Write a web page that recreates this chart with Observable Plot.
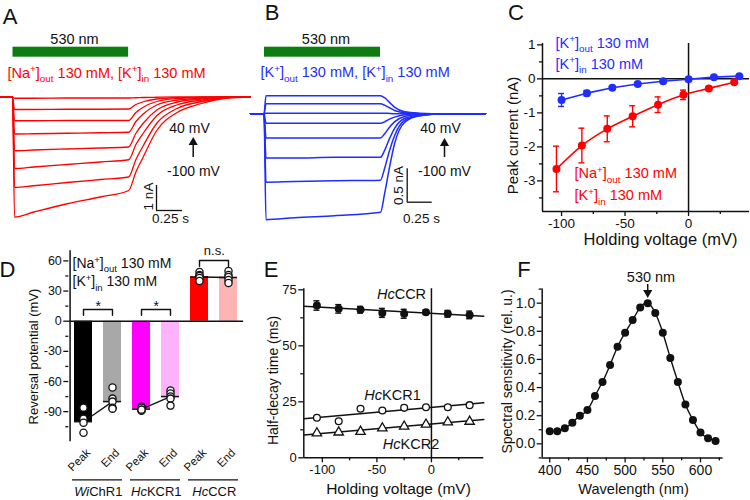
<!DOCTYPE html>
<html>
<head>
<meta charset="utf-8">
<script src="https://cdn.jsdelivr.net/npm/d3@7"></script>
<script src="https://cdn.jsdelivr.net/npm/@observablehq/plot@0.6"></script>
<style>
html,body{margin:0;padding:0;background:#fff;}
#fig{position:relative;width:750px;height:500px;overflow:hidden;background:#fff;}
.panel{position:absolute;}
.panel svg{display:block;overflow:visible;}
</style>
</head>
<body>
<div id="fig"></div>
<script>
// ================= DATA =================
// Panel A: photocurrent traces, [Na+]out / [K+]in (time s, current nA)
const timesA = [-0.12, -0.005, 0.015, 0.2, 0.52, 0.84, 1.11, 1.18, 1.25, 1.38, 1.58, 1.8, 2.09, 2.28];
const stepsA = [40, 20, 0, -20, -40, -60, -80, -100];
const traceA40   = [0, 0, -0.05, -0.05, -0.04, -0.04, -0.04, -0.03, -0.02, -0.01, 0, 0, 0, 0];
const traceA20   = [0, 0, -0.5, -0.5, -0.49, -0.49, -0.48, -0.3, -0.19, -0.08, -0.03, -0.01, 0, 0];
const traceA0    = [0, 0, -0.95, -0.95, -0.94, -0.94, -0.94, -0.62, -0.41, -0.18, -0.06, -0.02, 0, 0];
const traceAm20  = [0, 0, -1.48, -1.47, -1.45, -1.43, -1.41, -0.98, -0.68, -0.32, -0.12, -0.05, 0, 0];
const traceAm40  = [0, 0, -2.15, -2.12, -2.08, -2.04, -2.0, -1.45, -1.05, -0.52, -0.2, -0.08, 0, 0];
const traceAm60  = [0, 0, -2.86, -2.8, -2.7, -2.6, -2.51, -1.9, -1.45, -0.75, -0.31, -0.13, -0.01, 0];
const traceAm80  = [0, 0, -3.62, -3.55, -3.42, -3.3, -3.2, -2.5, -1.95, -1.05, -0.45, -0.19, -0.02, 0];
const traceAm100 = [0, 0, -4.8, -4.6, -4.27, -4.0, -3.74, -3.0, -2.4, -1.34, -0.61, -0.27, -0.03, 0];
const lightA = [0, 1.11];          // light on / off (s)
const scaleBarA = [1, 0.25];       // nA, s

// Panel B: photocurrent traces, [K+]out / [K+]in
const timesB = [-0.14, -0.005, 0.015, 0.3, 0.7, 1.16, 1.2, 1.25, 1.3, 1.4, 1.55, 1.8, 2.21];
const stepsB = [40, 20, 0, -20, -40, -60, -80, -100];
const traceB40   = [0, 0, 0.27, 0.27, 0.27, 0.27, 0.24, 0.17, 0.1, 0.03, 0.01, 0, 0];
const traceB20   = [0, 0, 0.15, 0.15, 0.15, 0.15, 0.13, 0.09, 0.05, 0.015, 0, 0, 0];
const traceB0    = [0, 0, 0.01, 0.01, 0.01, 0.01, 0.01, 0.005, 0, 0, 0, 0, 0];
const traceBm20  = [0, 0, -0.14, -0.14, -0.14, -0.14, -0.12, -0.08, -0.05, -0.015, 0, 0, 0];
const traceBm40  = [0, 0, -0.36, -0.36, -0.36, -0.36, -0.3, -0.2, -0.12, -0.04, -0.01, 0, 0];
const traceBm60  = [0, 0, -0.66, -0.66, -0.65, -0.65, -0.55, -0.37, -0.22, -0.07, -0.02, 0, 0];
const traceBm80  = [0, 0, -1.02, -1.01, -1.0, -0.99, -0.82, -0.55, -0.33, -0.1, -0.03, 0, 0];
const traceBm100 = [0, 0, -1.58, -1.55, -1.52, -1.47, -1.2, -0.8, -0.45, -0.13, -0.03, 0, 0];
const lightB = [0, 1.16];
const scaleBarB = [0.5, 0.25];

// Panel C: peak current vs holding voltage
const voltsK = [-100, -80, -60, -40, -20, 0, 20, 40];
const meanK  = [-0.62, -0.42, -0.26, -0.15, -0.07, -0.01, 0.05, 0.08];
const errK   = [0.19, 0.08, 0.04, 0.03, 0.02, 0.02, 0.02, 0.02];
const voltsNa = [-104, -84, -64, -44, -24, -4, 16, 36];
const meanNa  = [-2.65, -1.96, -1.47, -1.1, -0.76, -0.47, -0.28, -0.1];
const errNa   = [0.67, 0.51, 0.38, 0.31, 0.23, 0.14, 0.05, 0.03];
const ticksC_y = [-3, -2, -1, 0, 1];
const ticksC_x = [-100, -50, 0];

// Panel D: reversal potentials
const barKeys   = ["WiChR1 Peak", "WiChR1 End", "HcKCR1 Peak", "HcKCR1 End", "HcCCR Peak", "HcCCR End"];
const barPhase  = ["Peak", "End", "Peak", "End", "Peak", "End"];
const barGroup  = ["WiChR1", "WiChR1", "HcKCR1", "HcKCR1", "HcCCR", "HcCCR"];
const barValues = [-100, -80, -87.5, -75, 44, 43.5];
const barColors = ["#000000", "#a8a8a8", "#ff00ff", "#ffb2ff", "#ff0000", "#ffb4b4"];
const ptsWiPeak  = [-86, -97, -101, -111];
const ptsWiEnd   = [-66, -77, -80, -86, -87];
const ptsKcrPeak = [-85, -86, -88, -89, -88];
const ptsKcrEnd  = [-69, -72, -75, -77, -84];
const ptsCcrPeak = [49, 46, 45, 43, 40];
const ptsCcrEnd  = [50, 46, 44, 41, 38];
const groupNames = ["{i:Wi}ChR1", "{i:Hc}KCR1", "{i:Hc}CCR"];
const sigLabels  = ["*", "*", "n.s."];
const sigLevels  = [11.6, 11.6, 60.4];
const ticksD_y = [-90, -60, -30, 0, 30, 60];

// Panel E: half-decay time
const voltsE  = [-105, -85, -65, -45, -25, -5, 15, 35];
const ccrTime = [68.0, 66.5, 66.1, 64.7, 64.3, 65.0, 64.3, 63.8];
const ccrErr  = [2.1, 1.9, 1.5, 2.0, 2.0, 1.0, 1.5, 1.7];
const kcr1Time = [17.9, 16.3, 21.9, 21.1, 22.3, 22.6, 22.6, 23.5];
const kcr2Time = [11.0, 11.4, 11.7, 13.2, 14.0, 14.9, 15.9, 16.2];
const fitVolts = [-117, 48];
const fitCcr   = [67.7, 63.2];
const fitKcr1  = [17.4, 24.6];
const fitKcr2  = [10.2, 17.1];
const ticksE_y = [0, 25, 50, 75];
const ticksE_x = [-100, -50, 0];

// Panel F: action spectrum
const wavelengths = [400, 410, 420, 430, 440, 450, 460, 470, 480, 490, 500, 510, 520, 530, 540, 550, 560, 570, 580, 590, 600, 610, 620];
const sensitivity = [0.09, 0.09, 0.11, 0.15, 0.2, 0.24, 0.34, 0.44, 0.56, 0.69, 0.79, 0.88, 0.97, 1.0, 0.93, 0.79, 0.61, 0.44, 0.28, 0.17, 0.08, 0.04, 0.02];
const ticksF_y = [0, 0.2, 0.4, 0.6, 0.8, 1.0];
const ticksF_x = [400, 450, 500, 550, 600];
const peakWavelength = 530;

// ================= HELPERS =================
const FONT = '"Liberation Sans", Arial, Helvetica, sans-serif';
const RED = "#ff0000", BLUE = "#1f2dff", GREEN = "#0d7d12", INK = "#111111";
const fig = document.getElementById("fig");

function mk(p) {
  p.sx = d3.scaleLinear(p.xDom || [0, 1], [p.left + p.mL, p.left + p.w - p.mR]);
  p.sy = d3.scaleLinear(p.yDom, [p.top + p.h - p.mB, p.top + p.mT]);
  p.ix = gx => p.sx.invert(gx);
  p.iy = gy => p.sy.invert(gy);
  p.at = (gx, gy) => ({frameAnchor: "top-left", dx: gx - p.left - p.mL, dy: gy - p.top - p.mT});
  return p;
}
function base(p, o) {
  return Object.assign({
    width: p.w, height: p.h,
    marginLeft: p.mL, marginRight: p.mR, marginTop: p.mT, marginBottom: p.mB,
    style: {background: "transparent", overflow: "visible", fontFamily: FONT, fontSize: p.fs + "px", color: INK}
  }, o);
}
function lab(p, s, gx, gy, o = {}) {
  return Plot.text([s], Object.assign({}, p.at(gx, gy), {text: d => d, textAnchor: "middle", lineAnchor: "middle", fill: INK}, o));
}
// vertical arrow with a filled triangular head (shaft + triangle symbol)
function arrowMarks(p, x, gyFrom, gyTip, up = true) {
  const headOff = 5.4;
  const gyHead = up ? gyTip + headOff : gyTip - headOff;
  return [
    Plot.ruleX([{x, y1: p.iy(gyFrom), y2: p.iy(gyHead)}], {x: "x", y1: "y1", y2: "y2", stroke: INK, strokeWidth: 1.5}),
    Plot.dot([{x, y: p.iy(gyHead)}], {x: "x", y: "y", symbol: "triangle", r: 3.4, fill: INK, rotate: up ? 0 : 180})
  ];
}
function richText(svg) {
  const NS = "http://www.w3.org/2000/svg";
  svg.querySelectorAll("text").forEach(el => {
    const s = el.textContent;
    if (!/\{[i^_]:/.test(s)) return;
    const fs = parseFloat(getComputedStyle(el).fontSize) || 14;
    while (el.firstChild) el.removeChild(el.firstChild);
    const re = /\{([i^_]):([^}]*)\}/g;
    let last = 0, m, cur = 0;
    const add = (txt, kind) => {
      if (!txt) return;
      const t = document.createElementNS(NS, "tspan");
      let target = 0;
      if (kind === "^") { target = -0.38 * fs; t.setAttribute("font-size", (0.68 * fs).toFixed(2)); }
      else if (kind === "_") { target = 0.3 * fs; t.setAttribute("font-size", (0.68 * fs).toFixed(2)); }
      else if (kind === "i") t.setAttribute("font-style", "italic");
      if (target !== cur) { t.setAttribute("dy", (target - cur).toFixed(2)); cur = target; }
      t.textContent = txt;
      el.appendChild(t);
    };
    while ((m = re.exec(s))) { add(s.slice(last, m.index), ""); add(m[2], m[1]); last = re.lastIndex; }
    add(s.slice(last), "");
  });
}
function place(p, svg) {
  const div = document.createElement("div");
  div.className = "panel";
  Object.assign(div.style, {left: p.left + "px", top: p.top + "px", width: p.w + "px", height: p.h + "px"});
  div.appendChild(svg);
  fig.appendChild(div);
  richText(svg);
}
const fmt = d => String(d);
function axes(p, yMajor, yMinor, xMajor, xMinor, yFmt = fmt) {
  const out = [
    Plot.axisY({ticks: yMajor, tickSize: 5, tickPadding: 2, tickFormat: yFmt, label: null, strokeWidth: 1.3}),
    Plot.axisY({ticks: yMinor, tickSize: 3, tickFormat: () => "", label: null, strokeWidth: 1.3})
  ];
  if (xMajor) out.push(
    Plot.axisX({ticks: xMajor, tickSize: 5, tickPadding: 2, tickFormat: fmt, label: null, strokeWidth: 1.3}),
    Plot.axisX({ticks: xMinor, tickSize: 3, tickFormat: () => "", label: null, strokeWidth: 1.3})
  );
  return out;
}

// ================= PANEL A =================
{
  const A = mk({left: 0, top: 0, w: 250, h: 250, mL: 0, mR: 0, mT: 0, mB: 0, xDom: [-0.12, 2.28], yDom: [-6.14, 3.86], fs: 14});
  const traces = [traceA40, traceA20, traceA0, traceAm20, traceAm40, traceAm60, traceAm80, traceAm100];
  const rows = stepsA.flatMap((v, k) => timesA.map((t, j) => ({v, t, i: traces[k][j]})));
  const bar = {t: A.ix(156), i: A.iy(210)};
  const svg = Plot.plot(base(A, {
    x: {domain: A.xDom, axis: null}, y: {domain: A.yDom, axis: null},
    marks: [
      Plot.rect([lightA], {x1: d => d[0], x2: d => d[1], y1: () => A.iy(56.7), y2: () => A.iy(46.7), fill: GREEN}),
      Plot.line(rows, {x: "t", y: "i", z: "v", stroke: RED, strokeWidth: 1.3, curve: "monotone-x"}),
      Plot.ruleX([bar], {x: "t", y1: "i", y2: d => d.i + scaleBarA[0], stroke: INK, strokeWidth: 1.3}),
      Plot.ruleY([bar], {y: "i", x1: "t", x2: d => d.t + scaleBarA[1], stroke: INK, strokeWidth: 1.3}),
      ...arrowMarks(A, A.ix(192.7), 157, 136.5, true),
      lab(A, "A", 9.5, 16.5, {fontSize: 22}),
      lab(A, "530 nm", 74, 38.5, {fontSize: 14.5}),
      lab(A, "[Na{^:+}]{_:out} 130 mM, [K{^:+}]{_:in} 130 mM", 7, 72.5, {fontSize: 14.5, textAnchor: "start", fill: RED}),
      lab(A, "40 mV", 189, 128, {fontSize: 14}),
      lab(A, "-100 mV", 193, 171.5, {fontSize: 14}),
      lab(A, "1 nA", 148, 196, {fontSize: 13.5, rotate: -90}),
      lab(A, "0.25 s", 170, 218.5, {fontSize: 13.5})
    ]
  }));
  place(A, svg);
}

// ================= PANEL B =================
{
  const B = mk({left: 250, top: 0, w: 250, h: 250, mL: 0, mR: 0, mT: 0, mB: 0, xDom: [-0.14, 2.36], yDom: [-2.04, 1.691], fs: 14});
  const traces = [traceB40, traceB20, traceB0, traceBm20, traceBm40, traceBm60, traceBm80, traceBm100];
  const rows = stepsB.flatMap((v, k) => timesB.map((t, j) => ({v, t, i: traces[k][j]})));
  const bar = {t: B.ix(406.7), i: B.iy(201.7)};
  const svg = Plot.plot(base(B, {
    x: {domain: B.xDom, axis: null}, y: {domain: B.yDom, axis: null},
    marks: [
      Plot.rect([lightB], {x1: d => d[0], x2: d => d[1], y1: () => B.iy(56.7), y2: () => B.iy(46.7), fill: GREEN}),
      Plot.line(rows, {x: "t", y: "i", z: "v", stroke: BLUE, strokeWidth: 1.5, curve: "monotone-x"}),
      Plot.ruleX([bar], {x: "t", y1: "i", y2: d => d.i + scaleBarB[0], stroke: INK, strokeWidth: 1.3}),
      Plot.ruleY([bar], {y: "i", x1: "t", x2: d => d.t + scaleBarB[1], stroke: INK, strokeWidth: 1.3}),
      ...arrowMarks(B, B.ix(444), 157, 137.5, true),
      lab(B, "B", 271.5, 12.5, {fontSize: 22}),
      lab(B, "530 nm", 325.5, 38.5, {fontSize: 14.5}),
      lab(B, "[K{^:+}]{_:out} 130 mM, [K{^:+}]{_:in} 130 mM", 260, 72, {fontSize: 14.5, textAnchor: "start", fill: BLUE}),
      lab(B, "40 mV", 440, 128, {fontSize: 14}),
      lab(B, "-100 mV", 444, 171.5, {fontSize: 14}),
      lab(B, "0.5 nA", 398, 185, {fontSize: 13.5, rotate: -90}),
      lab(B, "0.25 s", 421, 218.5, {fontSize: 13.5})
    ]
  }));
  place(B, svg);
}

// ================= PANEL C =================
{
  const C = mk({left: 500, top: 0, w: 250, h: 250, mL: 42, mR: 1, mT: 43, mB: 39, xDom: [-115, 48], yDom: [-3.9, 1.04], fs: 13.5});
  const kRows = voltsK.map((v, i) => ({v, m: meanK[i], e: errK[i]}));
  const nRows = voltsNa.map((v, i) => ({v, m: meanNa[i], e: errNa[i]}));
  const errMarks = (rows, color) => [
    Plot.ruleX(rows, {x: "v", y1: d => d.m - d.e, y2: d => d.m + d.e, stroke: color, strokeWidth: 1.4}),
    Plot.ruleY(rows, {y: d => d.m + d.e, x1: "v", x2: "v", insetLeft: -3, insetRight: -3, stroke: color, strokeWidth: 1.4}),
    Plot.ruleY(rows, {y: d => d.m - d.e, x1: "v", x2: "v", insetLeft: -3, insetRight: -3, stroke: color, strokeWidth: 1.4})
  ];
  const svg = Plot.plot(base(C, {
    x: {domain: C.xDom}, y: {domain: C.yDom},
    marks: [
      Plot.ruleX([C.xDom[0]], {stroke: INK, strokeWidth: 1.5}),
      Plot.ruleY([C.yDom[0]], {stroke: INK, strokeWidth: 1.5}),
      Plot.ruleY([0], {stroke: INK, strokeWidth: 1.5}),
      Plot.ruleX([0], {stroke: INK, strokeWidth: 1.5}),
      ...axes(C, ticksC_y, [-3.5, -2.5, -1.5, -0.5, 0.5], ticksC_x, [-75, -25, 25]),
      Plot.line(kRows, {x: "v", y: "m", stroke: BLUE, strokeWidth: 1.6}),
      ...errMarks(kRows, BLUE),
      Plot.dot(kRows, {x: "v", y: "m", r: 4, fill: BLUE}),
      Plot.line(nRows, {x: "v", y: "m", stroke: RED, strokeWidth: 1.6, curve: "monotone-x"}),
      ...errMarks(nRows, RED),
      Plot.dot(nRows, {x: "v", y: "m", r: 4, fill: RED}),
      lab(C, "C", 515.5, 12.5, {fontSize: 22}),
      lab(C, "[K{^:+}]{_:out} 130 mM", 555, 42.5, {fontSize: 14.5, textAnchor: "start", fill: BLUE}),
      lab(C, "[K{^:+}]{_:in} 130 mM", 555, 63.5, {fontSize: 14.5, textAnchor: "start", fill: BLUE}),
      lab(C, "[Na{^:+}]{_:out} 130 mM", 574, 173, {fontSize: 14.5, textAnchor: "start", fill: RED}),
      lab(C, "[K{^:+}]{_:in} 130 mM", 574, 195, {fontSize: 14.5, textAnchor: "start", fill: RED}),
      lab(C, "Peak current (nA)", 513, 135, {fontSize: 15, rotate: -90}),
      lab(C, "Holding voltage (mV)", 660, 239, {fontSize: 16.5})
    ]
  }));
  place(C, svg);
}

// ================= PANEL D =================
{
  const D = mk({left: 0, top: 240, w: 250, h: 260, mL: 68.3, mR: 6.9, mT: 10.35, mB: 58.7, yDom: [-120, 70], fs: 12.5});
  const pIn = 0.392, pOut = 0.149, n = barKeys.length;
  const step = (D.w - D.mL - D.mR) / (n - pIn + 2 * pOut);
  const bw = step * (1 - pIn);
  const bars = barKeys.map((key, i) => ({key, phase: barPhase[i], group: barGroup[i], value: barValues[i]}));
  const phaseOf = Object.fromEntries(barKeys.map((k, i) => [k, barPhase[i]]));
  const ptsLists = [ptsWiPeak, ptsWiEnd, ptsKcrPeak, ptsKcrEnd, ptsCcrPeak, ptsCcrEnd];
  const pts = barKeys.flatMap((key, i) => ptsLists[i].map(value => ({key, value})));
  const groups = groupNames.map((name, g) => ({name, a: barKeys[2 * g], b: barKeys[2 * g + 1]}));
  const sig = sigLabels.map((label, g) => ({label, a: barKeys[2 * g], b: barKeys[2 * g + 1], top: sigLevels[g], id: g}));
  const legLen = 5.8;
  const brackets = sig.flatMap(s => [
    {id: s.id, x: s.a, y: s.top - legLen}, {id: s.id, x: s.a, y: s.top},
    {id: s.id, x: s.b, y: s.top}, {id: s.id, x: s.b, y: s.top - legLen}
  ]);
  const svg = Plot.plot(base(D, {
    x: {type: "band", domain: barKeys, paddingInner: pIn, paddingOuter: pOut, align: 0.5},
    y: {domain: D.yDom},
    color: {domain: barKeys, range: barColors},
    marks: [
      Plot.barY(bars, {x: "key", y1: 0, y2: "value", fill: "key"}),
      Plot.tickY(bars, {x: "key", y: "value", stroke: INK, strokeWidth: 1.5}),
      Plot.ruleY([0], {stroke: INK, strokeWidth: 1.5}),
      Plot.ruleX([barKeys[0]], {dx: -(step * pOut + bw / 2), y1: D.yDom[0], y2: D.yDom[1], stroke: INK, strokeWidth: 1.5}),
      ...axes(D, ticksD_y, [-105, -75, -45, -15, 15, 45], null, null),
      Plot.axisX({tickRotate: -45, tickSize: 0, tickPadding: 9, tickFormat: k => phaseOf[k], dx: 5, label: null, fontSize: 11.5}),
      Plot.line(bars, {x: "key", y: "value", z: "group", stroke: INK, strokeWidth: 1.3}),
      Plot.dot(pts, {x: "key", y: "value", r: 3.6, fill: "white", stroke: INK, strokeWidth: 1.3}),
      Plot.line(brackets, {x: "x", y: "y", z: "id", stroke: INK, strokeWidth: 1.4}),
      Plot.text(sig.slice(0, 2), {x: "a", y: "top", dx: step / 2, dy: -3.5, text: "label", fontSize: 14, fill: INK}),
      Plot.text(sig.slice(2), {x: "a", y: "top", dx: step / 2, dy: -10, text: "label", fontSize: 13, fill: INK}),
      Plot.ruleY(groups, {x1: "a", x2: "b", y: () => D.iy(479.3), insetLeft: -2, insetRight: -1, stroke: INK, strokeWidth: 1.3}),
      Plot.text(groups, {x: "a", y: () => D.iy(491), dx: step / 2, text: "name", fontSize: 13, fill: INK}),
      lab(D, "D", 7, 269.5, {fontSize: 22}),
      lab(D, "[Na{^:+}]{_:out} 130 mM", 72, 263, {fontSize: 14, textAnchor: "start"}),
      lab(D, "[K{^:+}]{_:in} 130 mM", 72, 281.5, {fontSize: 14, textAnchor: "start"}),
      lab(D, "Reversal potential (mV)", 33, 356, {fontSize: 13, rotate: -90})
    ]
  }));
  place(D, svg);
}

// ================= PANEL E =================
{
  const E = mk({left: 250, top: 250, w: 250, h: 250, mL: 53.3, mR: 16.7, mT: 38.2, mB: 42.7, xDom: [-117, 48], yDom: [0, 75.5], fs: 13});
  const ccr = voltsE.map((v, i) => ({v, m: ccrTime[i], e: ccrErr[i]}));
  const k1 = voltsE.map((v, i) => ({v, m: kcr1Time[i]}));
  const k2 = voltsE.map((v, i) => ({v, m: kcr2Time[i]}));
  const fits = [["ccr", fitCcr], ["k1", fitKcr1], ["k2", fitKcr2]].flatMap(([id, f]) => fitVolts.map((v, j) => ({id, v, m: f[j]})));
  const svg = Plot.plot(base(E, {
    x: {domain: E.xDom}, y: {domain: E.yDom},
    marks: [
      Plot.ruleX([E.xDom[0]], {stroke: INK, strokeWidth: 1.5}),
      Plot.ruleY([E.yDom[0]], {stroke: INK, strokeWidth: 1.5}),
      Plot.ruleX([0], {stroke: INK, strokeWidth: 1.5}),
      ...axes(E, ticksE_y, [12.5, 37.5, 62.5], ticksE_x, [-75, -25, 25]),
      Plot.line(fits, {x: "v", y: "m", z: "id", stroke: INK, strokeWidth: 1.5}),
      Plot.ruleX(ccr, {x: "v", y1: d => d.m - d.e, y2: d => d.m + d.e, stroke: INK, strokeWidth: 1.4}),
      Plot.ruleY(ccr, {y: d => d.m + d.e, x1: "v", x2: "v", insetLeft: -3, insetRight: -3, stroke: INK, strokeWidth: 1.4}),
      Plot.ruleY(ccr, {y: d => d.m - d.e, x1: "v", x2: "v", insetLeft: -3, insetRight: -3, stroke: INK, strokeWidth: 1.4}),
      Plot.dot(ccr, {x: "v", y: "m", r: 4, fill: INK}),
      Plot.dot(k1, {x: "v", y: "m", r: 3.4, fill: "white", stroke: INK, strokeWidth: 1.3}),
      Plot.dot(k2, {x: "v", y: "m", r: 3.5, symbol: "triangle", fill: "white", stroke: INK, strokeWidth: 1.3}),
      lab(E, "E", 270.5, 269.5, {fontSize: 22}),
      lab(E, "{i:Hc}CCR", 401, 293.5, {fontSize: 14.5}),
      lab(E, "{i:Hc}KCR1", 392, 395, {fontSize: 14.5}),
      lab(E, "{i:Hc}KCR2", 410.5, 443.5, {fontSize: 14.5}),
      lab(E, "Half-decay time (ms)", 273, 380, {fontSize: 14, rotate: -90}),
      lab(E, "Holding voltage (mV)", 398, 489, {fontSize: 15.5})
    ]
  }));
  place(E, svg);
}

// ================= PANEL F =================
{
  const F = mk({left: 500, top: 250, w: 250, h: 250, mL: 41.7, mR: 27.4, mT: 38.6, mB: 42.6, xDom: [390, 630], yDom: [-0.1, 1.1], fs: 14});
  const rows = wavelengths.map((w, i) => ({w, s: sensitivity[i]}));
  const svg = Plot.plot(base(F, {
    x: {domain: F.xDom}, y: {domain: F.yDom},
    marks: [
      Plot.ruleX([F.xDom[0]], {stroke: INK, strokeWidth: 1.5}),
      Plot.ruleY([F.yDom[0]], {stroke: INK, strokeWidth: 1.5}),
      ...axes(F, ticksF_y, [-0.1, 0.1, 0.3, 0.5, 0.7, 0.9, 1.1], ticksF_x, [425, 475, 525, 575, 625], d3.format(".1f")),
      Plot.line(rows, {x: "w", y: "s", stroke: INK, strokeWidth: 1.4, curve: "natural"}),
      Plot.dot(rows, {x: "w", y: "s", r: 4, fill: INK}),
      ...arrowMarks(F, peakWavelength, 284, 297.5, false),
      lab(F, "F", 523.5, 269.5, {fontSize: 22}),
      lab(F, "530 nm", 650.5, 277, {fontSize: 14.5}),
      lab(F, "Spectral sensitivity (rel. u.)", 507, 371, {fontSize: 14, rotate: -90}),
      lab(F, "Wavelength (nm)", 633, 489, {fontSize: 14.6})
    ]
  }));
  place(F, svg);
}
</script>
</body>
</html>
